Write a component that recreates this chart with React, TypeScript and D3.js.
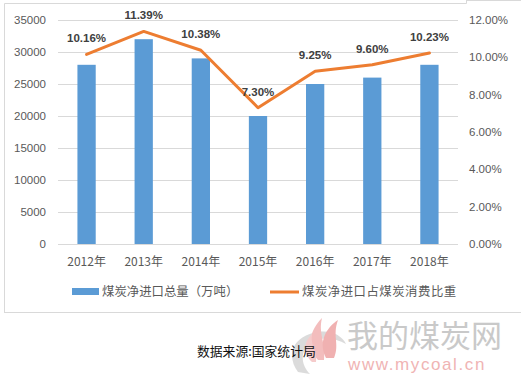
import React from "react";
import * as d3 from "d3";

const categories = ["2012年", "2013年", "2014年", "2015年", "2016年", "2017年", "2018年"];
const importVolume = [28000, 32000, 29000, 20000, 25000, 26000, 28000];
const importShare = [10.16, 11.39, 10.38, 7.3, 9.25, 9.6, 10.23];
const leftTicks = [0, 5000, 10000, 15000, 20000, 25000, 30000, 35000];
const rightTicks = [0, 2, 4, 6, 8, 10, 12];
const seriesNames = ["煤炭净进口总量（万吨）", "煤炭净进口占煤炭消费比重"];
const sourceText = "数据来源:国家统计局";
const watermarkCn = "我的煤炭网";
const watermarkUrl = "www.mycoal.cn";

const W = 521;
const H = 383;
const plot = { left: 58, right: 458, top: 20, bottom: 244 };
const NUM_FONT = "'Liberation Sans', Arial, sans-serif";
const CJK_FONT = "'Noto Sans CJK SC', 'Liberation Sans', sans-serif";

export default function App() {
  const x = d3
    .scaleBand<string>()
    .domain(categories)
    .range([plot.left, plot.right])
    .paddingInner(0.68)
    .paddingOuter(0.34);
  const yL = d3.scaleLinear().domain([0, 35000]).range([plot.bottom, plot.top]);
  const yR = d3.scaleLinear().domain([0, 12]).range([plot.bottom, plot.top]);
  const cx = (c: string) => (x(c) ?? 0) + x.bandwidth() / 2;
  const line = d3
    .line<number>()
    .x((_, i) => cx(categories[i]))
    .y((d) => yR(d));

  return (
    <svg
      width={W}
      height={H}
      style={{ position: "absolute", left: 0, top: 0, background: "#fff" }}
    >
      {/* chart frame */}
      <path d="M4.5,313 L4.5,3.5 L466.5,3.5 L466.5,0" fill="none" stroke="#d9d9d9" />
      <line x1={4.5} x2={521} y1={312.5} y2={312.5} stroke="#d9d9d9" />
      <line x1={466.5} x2={521} y1={0.5} y2={0.5} stroke="#d9d9d9" />

      {/* gridlines */}
      {leftTicks.map((t) => (
        <line
          key={"g" + t}
          x1={plot.left}
          x2={plot.right}
          y1={Math.round(yL(t)) + 0.5}
          y2={Math.round(yL(t)) + 0.5}
          stroke="#d9d9d9"
          strokeWidth={1}
        />
      ))}

      {/* left axis labels */}
      {leftTicks.map((t) => (
        <text
          key={"l" + t}
          x={46}
          y={yL(t)}
          dy="0.35em"
          textAnchor="end"
          fontFamily={NUM_FONT}
          fontSize={11.5}
          fill="#595959"
        >
          {t}
        </text>
      ))}

      {/* right axis labels */}
      {rightTicks.map((t) => (
        <text
          key={"r" + t}
          x={469}
          y={yR(t)}
          dy="0.35em"
          textAnchor="start"
          fontFamily={NUM_FONT}
          fontSize={11.5}
          fill="#595959"
        >
          {t.toFixed(2) + "%"}
        </text>
      ))}

      {/* bars */}
      {categories.map((c, i) => (
        <rect
          key={"b" + c}
          x={x(c)}
          y={yL(importVolume[i])}
          width={x.bandwidth()}
          height={yL(0) - yL(importVolume[i])}
          fill="#5b9bd5"
        />
      ))}

      {/* x labels */}
      {categories.map((c) => (
        <text
          key={"x" + c}
          x={cx(c)}
          y={262}
          dy="0.35em"
          textAnchor="middle"
          fontFamily={CJK_FONT}
          fontSize={12}
          fill="#595959"
        >
          {c}
        </text>
      ))}

      {/* line */}
      <path
        d={line(importShare) ?? ""}
        fill="none"
        stroke="#ed7d31"
        strokeWidth={3}
        strokeLinejoin="round"
        strokeLinecap="round"
      />

      {/* data labels */}
      {categories.map((c, i) => (
        <text
          key={"d" + c}
          x={cx(c)}
          y={yR(importShare[i]) - 12}
          textAnchor="middle"
          fontFamily={NUM_FONT}
          fontSize={11.5}
          fontWeight="bold"
          fill="#404040"
        >
          {importShare[i].toFixed(2) + "%"}
        </text>
      ))}

      {/* legend */}
      <rect x={72} y={288} width={27} height={7} fill="#5b9bd5" />
      <text
        x={102}
        y={292}
        dy="0.35em"
        fontFamily={CJK_FONT}
        fontSize={12.4}
        fill="#595959"
      >
        {seriesNames[0]}
      </text>
      <line x1={270} x2={299} y1={292} y2={292} stroke="#ed7d31" strokeWidth={3} />
      <text
        x={302}
        y={292}
        dy="0.35em"
        fontFamily={CJK_FONT}
        fontSize={12.4}
        letterSpacing={0.5}
        fill="#595959"
      >
        {seriesNames[1]}
      </text>

      {/* watermark logo */}
      <g opacity={0.9}>
        <path
          d="M298,372 C286,356 292,336 318,332 C332,330 342,336 346,344 C336,338 322,336 312,342 C300,350 300,364 310,374 Z"
          fill="#d8d8d8"
        />
        <path d="M318,360 C306,346 310,330 322,318 C318,334 326,342 324,360 Z" fill="#f2b6b6" />
        <path d="M326,358 C318,342 326,328 338,320 C332,336 340,344 334,358 Z" fill="#efa9a9" />
        <path d="M312,362 C302,352 304,342 312,334 C310,346 318,352 316,362 Z" fill="#f5c6c6" />
      </g>
      <text
        x={347}
        y={347}
        fontFamily={CJK_FONT}
        fontSize={31}
        fill="#c9c9c9"
      >
        {watermarkCn}
      </text>
      <text
        x={348}
        y={370}
        fontFamily={NUM_FONT}
        fontSize={17}
        letterSpacing={1.6}
        fill="#f0b4b4"
      >
        {watermarkUrl}
      </text>

      {/* source */}
      <text
        x={197}
        y={352}
        dy="0.35em"
        fontFamily={CJK_FONT}
        fontSize={12.8}
        fill="#111"
      >
        {sourceText}
      </text>
    </svg>
  );
}
